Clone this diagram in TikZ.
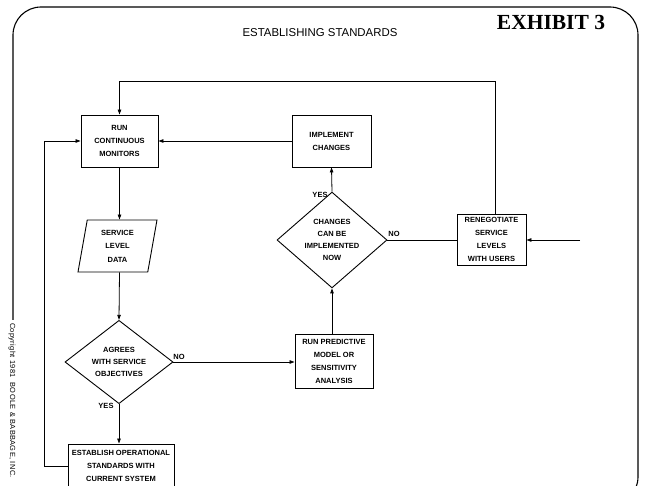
\documentclass[tikz,border=0pt]{standalone}
\usepackage{fontspec}
\setmainfont{Liberation Sans}
\newfontfamily\exfont{Liberation Serif}
\newfontfamily\copyfont[LetterSpace=5]{Liberation Sans}
\usetikzlibrary{shapes.geometric,arrows.meta,calc}
\begin{document}
\begin{tikzpicture}[x=1pt,y=-1pt,
  box/.style={draw,line width=0.9pt,inner sep=0pt,align=center,font=\fontsize{7.5}{13}\selectfont\bfseries},
  dia/.style={draw,diamond,line width=0.9pt,inner sep=0pt,align=center,font=\fontsize{7.5}{12}\selectfont\bfseries},
  para/.style={draw,trapezium,trapezium left angle=74,trapezium right angle=106,trapezium stretches body,line width=0.9pt,inner sep=0pt,align=center,font=\fontsize{7.5}{13.5}\selectfont\bfseries},
  arr/.style={line width=0.8pt,-{Triangle[length=5pt,width=3.5pt]}},
  ln/.style={line width=0.8pt},
  lbl/.style={font=\fontsize{7.5}{9}\selectfont\bfseries},
  frame/.style={line width=1.1pt,rounded corners=28pt}]
\useasboundingbox (0,0) rectangle (646,486);
\clip (0,0) rectangle (646,486);
% frame
\draw[frame] (13,320) -- (13,7) -- (638,7) -- (638,505) -- (600,505);
\node[font=\fontsize{11.4}{13}\selectfont] (title) at (320,33) {ESTABLISHING STANDARDS};
\node[font=\exfont\bfseries\fontsize{21.5}{24}\selectfont] (exh) at (551,22) {EXHIBIT 3};
\node[rotate=-90,anchor=west,inner sep=0pt,font=\copyfont\fontsize{7.4}{9}\selectfont] (copy) at (12,323) {Copyright 1981\ \ BOOLE \& BABBAGE, INC.};
% nodes
\node[box,minimum width=77,minimum height=52] (run) at (119.5,141) {RUN\\CONTINUOUS\\MONITORS};
\node[box,minimum width=79,minimum height=52] (impl) at (331.5,141) {IMPLEMENT\\CHANGES};
\node[para,minimum width=79,minimum height=52] (sld) at (117.5,246) {SERVICE\\LEVEL\\DATA};
\node[dia,minimum width=110,minimum height=78] (chg) at (332,240) {CHANGES\\CAN BE\\IMPLEMENTED\\NOW};
\node[box,minimum width=69,minimum height=51] (reneg) at (491.5,239.5) {RENEGOTIATE\\SERVICE\\LEVELS\\WITH USERS};
\node[dia,minimum width=108,minimum height=74] (agree) at (119,362) {AGREES\\WITH SERVICE\\OBJECTIVES};
\node[box,minimum width=78,minimum height=54] (pred) at (334,361) {RUN PREDICTIVE\\MODEL OR\\SENSITIVITY\\ANALYSIS};
\node[box,minimum width=106,minimum height=44] (estab) at (121,466) {ESTABLISH OPERATIONAL\\STANDARDS WITH\\CURRENT SYSTEM};
\coordinate (ext) at (580,240);
% connectors
\draw[arr] ([xshift=3.5pt]reneg.north) |- ($(run.north)+(0,-33)$) -- (run.north);
\draw[arr] (impl.west) -- (run.east);
\draw[arr] (chg.north) -- (impl.south);
\draw[ln] (chg.east) -- (chg.east -| reneg.west);
\draw[arr] (ext) -- (ext -| reneg.east);
\draw[arr] (run.south) -- (run.south |- sld.north);
\draw[arr] (run.south |- sld.south) -- (agree.north);
\draw[arr] (agree.east) -- (agree.east -| pred.west);
\draw[arr] (chg.south |- pred.north) -- (chg.south);
\draw[arr] (agree.south) -- (agree.south |- estab.north);
\draw[arr] (estab.west) -- ++(-23,0) |- (run.west);
% labels
\node[lbl] (y1) at (320,195) {YES};
\node[lbl] (n1) at (394,234) {NO};
\node[lbl] (n2) at (179,357) {NO};
\node[lbl] (y2) at (106,406) {YES};
\end{tikzpicture}
\end{document}
